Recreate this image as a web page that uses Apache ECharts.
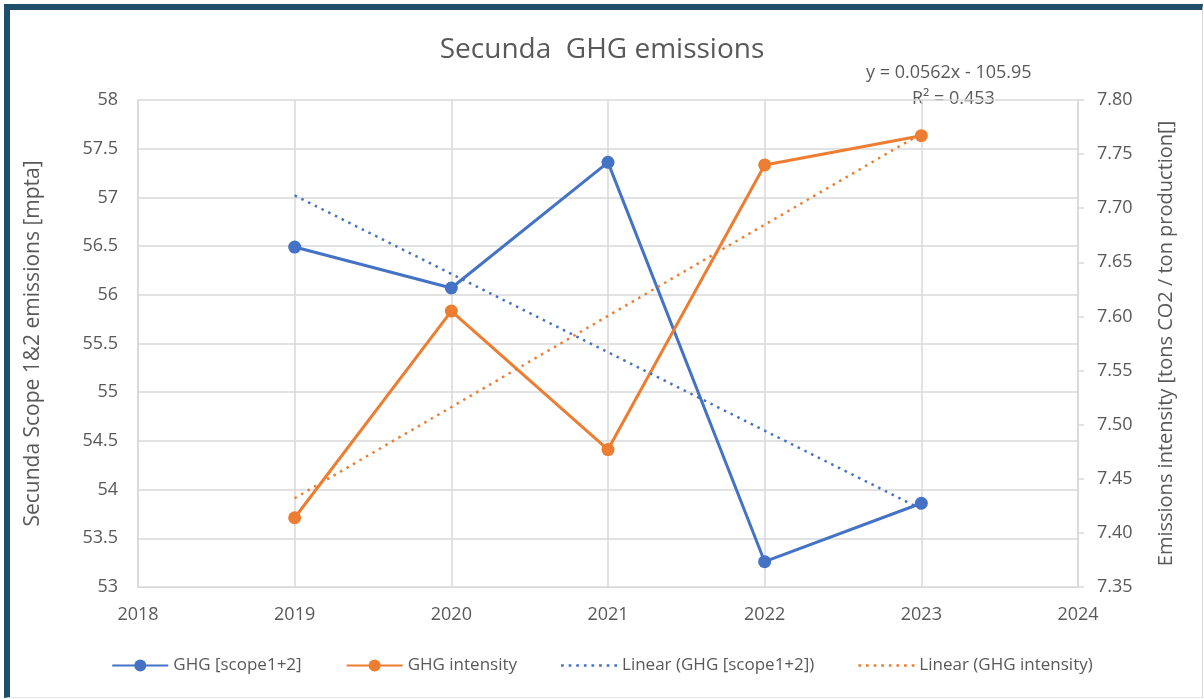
<!DOCTYPE html>
<html>
<head>
<meta charset="utf-8">
<script src="https://cdn.jsdelivr.net/npm/echarts@6/dist/echarts.min.js"></script>
<style>
  html, body { margin:0; padding:0; background:#fff; }
  #frame { position:absolute; left:4px; top:4px; width:1199px; height:694px; box-sizing:border-box;
           border-top:6px solid #1f4e6b; border-left:6px solid #1f4e6b;
           border-right:1px solid #d9d9d9; border-bottom:1px solid #e6e6e6; }
  #main { position:absolute; left:0; top:0; width:1204px; height:699px; }
</style>
</head>
<body>
<div id="frame"></div>
<div id="main"></div>
<script>
var years = [2019, 2020, 2021, 2022, 2023];
var ghg = [56.49, 56.07, 57.36, 53.26, 53.86];
var intensity = [7.414, 7.605, 7.477, 7.740, 7.767];
// trend line end points
var trendYears = [2019, 2023];
var ghgTrend = [57.02, 53.80];
var intensityTrend = [7.432, 7.769];

var blue = '#4472C4', orange = '#ED7D31', txt = '#595959', grid = '#d9d9d9';
var font = '"Open Sans", "Noto Sans", sans-serif';
// dotted legend icon
var dots = 'path://M0,0h2.5v2.5h-2.5z M7,0h2.5v2.5h-2.5z M14,0h2.5v2.5h-2.5z M21,0h2.5v2.5h-2.5z ' +
           'M28,0h2.5v2.5h-2.5z M35,0h2.5v2.5h-2.5z M42,0h2.5v2.5h-2.5z M49,0h2.5v2.5h-2.5z';

function pairs(xs, ys) {
  var out = [];
  for (var i = 0; i < xs.length; i++) out.push([xs[i], ys[i]]);
  return out;
}

var myChart = echarts.init(document.getElementById('main'));
var option = {
  animation: false,
  textStyle: { fontFamily: font, color: txt },
  title: {
    text: 'Secunda  GHG emissions',
    left: 'center', top: 31,
    textStyle: { fontFamily: font, fontSize: 28, fontWeight: 'normal', color: txt }
  },
  legend: {
    bottom: 20, left: 'center', itemGap: 44, itemWidth: 56, itemHeight: 15,
    textStyle: { fontFamily: font, fontSize: 17, color: txt },
    data: [
      { name: 'GHG [scope1+2]' },
      { name: 'GHG intensity' },
      { name: 'Linear (GHG [scope1+2])', icon: dots },
      { name: 'Linear (GHG intensity)', icon: dots }
    ]
  },
  grid: { left: 138, right: 126, top: 100, bottom: 112 },
  xAxis: {
    type: 'value', min: 2018, max: 2024, interval: 1,
    axisLine: { lineStyle: { color: grid } },
    axisTick: { show: false },
    axisLabel: { color: txt, fontSize: 18, margin: 19, fontFamily: font,
                 formatter: function (v) { return String(v); } },
    splitLine: { show: true, lineStyle: { color: grid, width: 1.5 } }
  },
  yAxis: [{
    type: 'value', min: 53, max: 58, interval: 0.5,
    name: 'Secunda Scope 1&2 emissions [mpta]', nameLocation: 'middle', nameGap: 94,
    nameTextStyle: { color: txt, fontSize: 21, fontFamily: font },
    axisLine: { show: true, lineStyle: { color: grid, width: 1.5 } },
    axisTick: { show: false },
    axisLabel: { color: txt, fontSize: 18, margin: 20, fontFamily: font },
    splitLine: { show: true, lineStyle: { color: grid, width: 1.5 } }
  }, {
    type: 'value', min: 7.35, max: 7.80, interval: 0.05,
    name: 'Emissions intensity [tons CO2 / ton production[]', nameLocation: 'middle', nameGap: 78,
    nameRotate: 90,
    nameTextStyle: { color: txt, fontSize: 20, fontFamily: font },
    axisLine: { show: true, lineStyle: { color: grid, width: 1.5 } },
    axisTick: { show: true, length: 6, lineStyle: { color: grid, width: 1.5 } },
    axisLabel: { color: txt, fontSize: 18, margin: 19, fontFamily: font,
                 formatter: function (v) { return v.toFixed(2); } },
    splitLine: { show: false }
  }],
  graphic: [{
    type: 'text', left: 866, top: 64,
    style: { text: 'y = 0.0562x - 105.95', fill: txt, font: '18px "Open Sans", sans-serif' }
  }, {
    type: 'text', left: 912, top: 90,
    style: { text: 'R² = 0.453', fill: txt, font: '18px "Open Sans", sans-serif' }
  }],
  series: [{
    name: 'GHG [scope1+2]', type: 'line', yAxisIndex: 0,
    data: pairs(years, ghg),
    symbol: 'circle', symbolSize: 13,
    lineStyle: { color: blue, width: 3 }, itemStyle: { color: blue }
  }, {
    name: 'GHG intensity', type: 'line', yAxisIndex: 1,
    data: pairs(years, intensity),
    symbol: 'circle', symbolSize: 13,
    lineStyle: { color: orange, width: 3 }, itemStyle: { color: orange }
  }, {
    name: 'Linear (GHG [scope1+2])', type: 'line', yAxisIndex: 0,
    data: pairs(trendYears, ghgTrend),
    symbol: 'none',
    lineStyle: { color: blue, width: 2.5, type: [2.5, 5] }, itemStyle: { color: blue }
  }, {
    name: 'Linear (GHG intensity)', type: 'line', yAxisIndex: 1,
    data: pairs(trendYears, intensityTrend),
    symbol: 'none',
    lineStyle: { color: orange, width: 2.5, type: [2.5, 5] }, itemStyle: { color: orange }
  }]
};
myChart.setOption(option);
</script>
</body>
</html>
